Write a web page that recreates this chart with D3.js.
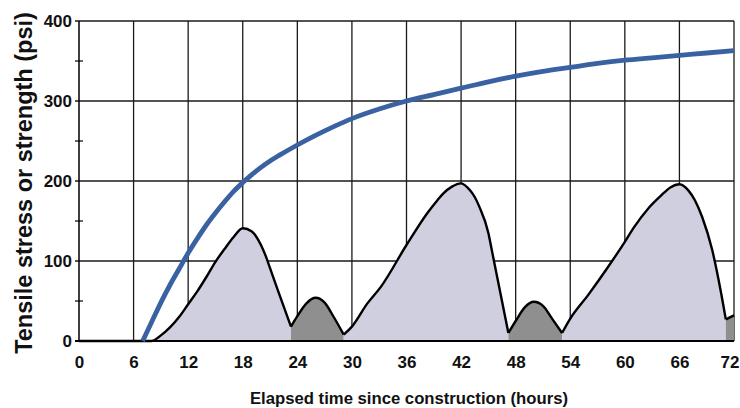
<!DOCTYPE html>
<html>
<head>
<meta charset="utf-8">
<script src="https://cdn.jsdelivr.net/npm/d3@7"></script>
<style>
  body { margin: 0; background: #fff; }
  text { font-family: "Liberation Sans", Arial, sans-serif; font-weight: bold; fill: #111; }
</style>
</head>
<body>
<div id="chart"></div>
<script>
// strength of the concrete (blue curve)
var strengthHours = [7, 8, 9, 10, 11, 12, 13, 14, 15, 16, 17, 18, 19, 20, 21, 22, 24, 26, 28, 30, 33, 36, 39, 42, 45, 48, 51, 54, 57, 60, 63, 66, 69, 72];
var strengthPsi   = [0, 24, 48, 70, 90, 110, 128, 145, 160, 174, 187, 198, 208, 217, 225, 232, 245, 257, 268, 278, 290, 300, 308, 316, 324, 331, 337, 342, 347, 351, 354, 357, 360, 363];

// tensile stress (black curve)
var stressHours = [0, 8, 9, 10, 11, 12, 13, 14, 15, 16, 17, 18, 19, 20, 20.5, 21, 22, 23.3,
                   24, 25, 26, 27, 28, 29.1,
                   30, 31.7, 33.2, 36, 38.3, 39.4, 40, 41, 42, 43, 43.5, 44, 45, 45.3, 46, 47.2,
                   48, 49, 50, 51, 52, 53.1,
                   54, 56, 58, 60, 61, 62.6, 64, 65, 66, 67, 67.7, 68.5, 69.6, 70.5, 71.1,
                   72];
var stressPsi   = [0, 0, 7, 17, 30, 46, 62, 80, 99, 115, 130, 141, 137, 120, 107, 91, 59, 18,
                   31, 47, 54, 48, 30, 8,
                   18, 47, 68, 120, 160, 176, 184, 193, 197, 188, 180, 168, 135, 118, 78, 10,
                   25, 42, 49, 44, 28, 10,
                   28, 58, 90, 124, 142, 166, 182, 192, 196, 188, 176, 155, 114, 65, 27,
                   32];

// phases of the stress curve, split at the sharp minima
var phaseStart = [0, 23.3, 29.1, 47.2, 53.1, 71.1];
var phaseEnd   = [23.3, 29.1, 47.2, 53.1, 71.1, 72];
var phaseKind  = ["tension", "rebound", "tension", "rebound", "tension", "rebound"];

var xTicks = [0, 6, 12, 18, 24, 30, 36, 42, 48, 54, 60, 66, 72];
var yTicks = [0, 100, 200, 300, 400];
var yMinor = [50, 150, 250, 350];

var width = 740, height = 408;
var margin = {top: 21, right: 6, bottom: 67, left: 79};

var svg = d3.select("#chart").append("svg")
    .attr("width", width)
    .attr("height", height);

var x = d3.scaleLinear().domain([0, 72]).range([margin.left, width - margin.right]);
var y = d3.scaleLinear().domain([0, 400]).range([height - margin.bottom, margin.top]);

var fillColor = {tension: "#cfcfe0", rebound: "#8f8f8f"};

// grid
svg.append("g").selectAll("line")
    .data(xTicks.slice(1))
    .enter().append("line")
    .attr("x1", function(d) { return x(d); })
    .attr("x2", function(d) { return x(d); })
    .attr("y1", y(0))
    .attr("y2", y(400))
    .style("stroke", "#1a1a1a")
    .style("stroke-width", 1.3);

svg.append("g").selectAll("line")
    .data(yTicks.slice(1))
    .enter().append("line")
    .attr("x1", x(0) - 4)
    .attr("x2", x(72))
    .attr("y1", function(d) { return y(d); })
    .attr("y2", function(d) { return y(d); })
    .style("stroke", "#1a1a1a")
    .style("stroke-width", 1.3);

// stress areas and line, one piece per phase
var stress = stressHours.map(function(h, i) { return {h: h, v: stressPsi[i]}; });

var area = d3.area()
    .x(function(d) { return x(d.h); })
    .y0(y(0))
    .y1(function(d) { return y(d.v); })
    .curve(d3.curveMonotoneX);

var line = d3.line()
    .x(function(d) { return x(d.h); })
    .y(function(d) { return y(d.v); })
    .curve(d3.curveMonotoneX);

var phases = phaseStart.map(function(s, i) {
  return {
    kind: phaseKind[i],
    pts: stress.filter(function(d) { return d.h >= s && d.h <= phaseEnd[i]; })
  };
});

svg.append("g").selectAll("path")
    .data(phases)
    .enter().append("path")
    .attr("d", function(d) { return area(d.pts); })
    .style("fill", function(d) { return fillColor[d.kind]; })
    .style("stroke", "none");

svg.append("g").selectAll("path")
    .data(phases)
    .enter().append("path")
    .attr("d", function(d) { return line(d.pts); })
    .style("fill", "none")
    .style("stroke", "#000")
    .style("stroke-width", 2.4)
    .style("stroke-linejoin", "round");

// axes
svg.append("line")
    .attr("x1", x(0)).attr("x2", x(0))
    .attr("y1", y(0)).attr("y2", y(400))
    .style("stroke", "#000").style("stroke-width", 1.5);

svg.append("g").selectAll("line")
    .data(yMinor)
    .enter().append("line")
    .attr("x1", x(0) - 4)
    .attr("x2", x(0) + 4)
    .attr("y1", function(d) { return y(d); })
    .attr("y2", function(d) { return y(d); })
    .style("stroke", "#000").style("stroke-width", 1.2);

svg.append("line")
    .attr("x1", x(0) - 4).attr("x2", x(72))
    .attr("y1", y(0)).attr("y2", y(0))
    .style("stroke", "#000").style("stroke-width", 2);

// strength curve
var strength = strengthHours.map(function(h, i) { return {h: h, v: strengthPsi[i]}; });
svg.append("path")
    .attr("d", line(strength))
    .style("fill", "none")
    .style("stroke", "#3a62a2")
    .style("stroke-width", 4.8)
    .style("stroke-linecap", "butt");

// tick labels
var xAxis = svg.append("g")
    .attr("transform", "translate(0," + y(0) + ")")
    .call(d3.axisBottom(x).tickValues(xTicks).tickSize(0).tickPadding(15).tickFormat(d3.format("d")));
xAxis.select(".domain").remove();
xAxis.selectAll("text").style("font-size", "17px");
// last label sits against the right edge, like the original
xAxis.selectAll(".tick").filter(function(d) { return d === 72; })
    .select("text").attr("text-anchor", "end").attr("x", width - 1 - x(72));

var yAxis = svg.append("g")
    .attr("transform", "translate(" + x(0) + ",0)")
    .call(d3.axisLeft(y).tickValues(yTicks).tickSize(0).tickPadding(7).tickFormat(d3.format("d")));
yAxis.select(".domain").remove();
yAxis.selectAll("text").style("font-size", "17px");

// titles
svg.append("text")
    .attr("transform", "translate(32,183) rotate(-90)")
    .attr("text-anchor", "middle")
    .style("font-size", "23.5px")
    .text("Tensile stress or strength (psi)");

svg.append("text")
    .attr("x", 409)
    .attr("y", 404)
    .attr("text-anchor", "middle")
    .style("font-size", "16.7px")
    .text("Elapsed time since construction (hours)");
</script>
</body>
</html>
